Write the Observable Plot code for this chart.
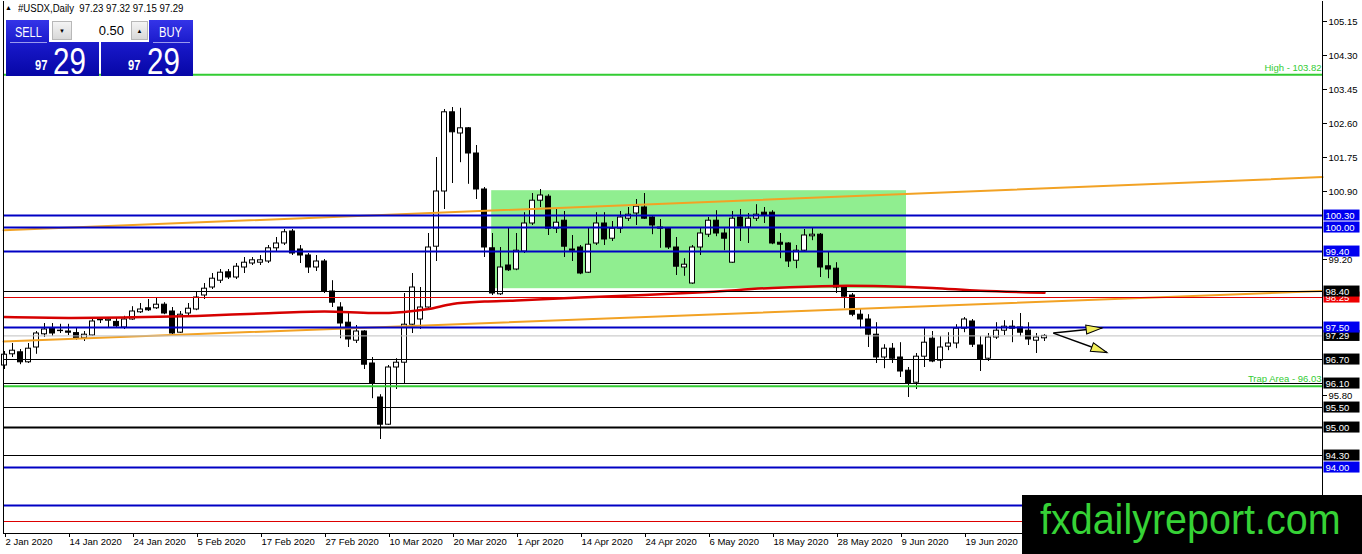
<!DOCTYPE html>
<html><head><meta charset="utf-8">
<script src="https://cdn.jsdelivr.net/npm/d3@7"></script>
<script src="https://cdn.jsdelivr.net/npm/@observablehq/plot@0.6"></script>
<style>
body{margin:0;background:#fff;font-family:"Liberation Sans",Arial,sans-serif;}
#wrap{position:relative;width:1362px;height:554px;overflow:hidden;background:#fff;}
#chart{position:absolute;left:0;top:0;}
.ov{position:absolute;}
.bx{position:absolute;background:linear-gradient(to bottom,#3434e8 0%,#1818c8 45%,#0606a6 100%);}
.wt{position:absolute;color:#fff;white-space:nowrap;transform-origin:left top;}
</style></head>
<body><div id="wrap"><div id="chart"></div>
<div class="wt" style="left:5px;top:4px;color:#000;font-size:7px;">&#9650;</div>
<div class="wt" style="left:18px;top:3px;color:#000;font-size:10px;transform:scaleX(0.96);">#USDX,Daily&nbsp;&nbsp;97.23 97.32 97.15 97.29</div>
<div class="bx" style="left:6px;top:20px;width:93px;height:56px;"></div>
<div class="bx" style="left:101px;top:20px;width:92px;height:56px;"></div>
<div class="ov" style="left:49px;top:20px;width:100px;height:22px;background:#fff;"></div>
<div class="ov" style="left:52px;top:21px;width:20px;height:19px;background:linear-gradient(#f4f4f4,#d8d8d8);border:1px solid #b8b8b8;box-sizing:border-box;font-size:6px;text-align:center;line-height:19px;">&#9660;</div>
<div class="ov" style="left:131px;top:21px;width:17px;height:19px;background:linear-gradient(#f4f4f4,#d8d8d8);border:1px solid #b8b8b8;box-sizing:border-box;font-size:6px;text-align:center;line-height:19px;">&#9650;</div>
<div class="wt" style="left:88px;top:23px;width:36px;text-align:right;color:#000;font-size:13px;">0.50</div>
<div class="wt" style="left:15px;top:24px;font-size:14px;transform:scaleX(0.78);">SELL</div>
<div class="wt" style="left:159px;top:24px;font-size:14px;transform:scaleX(0.8);">BUY</div>
<div class="ov" style="left:10px;top:42px;width:37px;height:1px;background:#9a9aee;"></div>
<div class="ov" style="left:153px;top:42px;width:37px;height:1px;background:#9a9aee;"></div>
<div class="wt" style="left:35px;top:57px;font-size:14px;font-weight:bold;transform:scaleX(0.8);">97</div>
<div class="wt" style="left:53px;top:41px;font-size:36px;transform:scaleX(0.82);">29</div>
<div class="wt" style="left:128px;top:57px;font-size:14px;font-weight:bold;transform:scaleX(0.8);">97</div>
<div class="wt" style="left:147px;top:41px;font-size:36px;transform:scaleX(0.82);">29</div>
<div class="ov" style="left:1022px;top:495px;width:340px;height:59px;background:#000;"></div>
<div class="wt" style="left:1040px;top:496px;font-size:42px;color:#36d236;transform:scaleX(0.94);">fxdailyreport.com</div>
</div>
<script>
// ---- data ----
const opens  = [96.55,96.83,96.88,96.63,97.00,97.33,97.47,97.42,97.40,97.36,97.23,97.30,97.70,97.67,97.64,97.50,97.70,97.88,97.98,97.98,98.07,97.90,97.37,97.85,97.95,98.30,98.50,98.67,98.88,98.75,99.00,99.10,99.12,99.15,99.48,99.60,99.90,99.45,99.30,99.00,99.15,98.40,98.00,97.62,97.17,97.40,96.60,95.75,95.07,96.50,96.62,97.57,97.70,98.00,99.52,100.90,102.88,102.35,102.48,101.85,100.95,99.48,98.33,99.05,98.95,99.40,100.10,100.67,100.77,99.97,100.17,99.45,99.50,98.87,99.60,100.10,99.72,99.97,100.22,100.35,100.50,100.25,100.00,99.97,99.50,99.00,98.60,99.50,99.82,100.17,99.85,99.12,100.25,100.00,100.22,100.37,100.37,99.62,99.60,99.17,99.42,99.78,99.82,99.03,98.97,98.50,98.30,97.82,97.70,97.32,96.75,96.97,96.75,96.42,96.12,96.77,97.22,96.67,97.02,97.10,97.47,97.65,97.05,96.72,97.25,97.42,97.52,97.50,97.42,97.17,97.23];
const highs  = [96.90,97.10,96.95,97.10,97.40,97.60,97.60,97.58,97.58,97.48,97.40,97.72,97.75,97.75,97.75,97.78,98.02,98.10,98.20,98.23,98.12,98.00,97.90,98.10,98.40,98.60,98.85,98.95,98.95,99.10,99.25,99.25,99.30,99.55,99.75,99.95,99.95,99.55,99.35,99.30,99.20,98.67,98.12,97.85,97.55,97.42,96.75,95.82,96.55,96.72,98.35,98.85,98.50,99.85,101.75,102.95,103.00,102.98,102.50,102.05,101.00,99.85,99.50,99.98,99.85,100.37,100.85,100.95,100.82,100.45,100.40,99.80,99.55,100.00,100.37,100.37,100.15,100.40,100.50,100.70,100.85,100.27,100.20,100.00,99.75,99.22,99.55,100.00,100.25,100.42,99.97,100.40,100.45,100.35,100.57,100.50,100.42,99.85,99.62,99.55,99.95,100.00,99.85,99.38,99.12,98.55,98.35,97.97,97.82,97.62,97.07,97.10,97.12,96.50,96.85,97.47,97.40,97.27,97.37,97.57,97.75,97.70,97.27,97.35,97.62,97.67,97.67,97.85,97.62,97.35,97.32];
const lows   = [96.45,96.75,96.57,96.60,96.83,97.25,97.28,97.35,97.30,97.18,97.15,97.28,97.60,97.48,97.48,97.45,97.68,97.85,97.90,97.95,97.82,97.32,97.35,97.80,97.92,98.20,98.45,98.60,98.70,98.70,98.85,99.05,99.05,99.10,99.40,99.55,99.30,99.10,98.85,98.90,98.35,98.00,97.22,97.00,97.10,96.45,95.72,94.70,95.05,95.95,96.10,97.35,97.45,97.98,99.15,100.45,101.10,101.62,101.08,100.70,99.25,98.30,98.30,98.90,98.92,99.35,100.05,100.50,99.80,99.85,99.25,99.15,98.82,98.85,99.55,99.55,99.65,99.85,100.15,100.05,100.20,99.82,99.48,99.45,98.80,98.78,98.58,99.30,99.75,99.77,99.42,99.10,99.65,99.60,100.15,100.10,99.57,99.22,99.00,98.97,99.40,99.67,98.75,98.72,98.35,97.97,97.77,97.47,97.00,96.60,96.47,96.60,96.25,95.75,95.95,96.50,96.62,96.47,96.92,96.97,97.37,97.00,96.40,96.65,97.20,97.30,97.12,97.27,97.05,96.85,97.15];
const closes = [96.82,96.92,96.63,96.97,97.35,97.45,97.35,97.41,97.37,97.22,97.32,97.65,97.68,97.70,97.53,97.70,97.90,97.95,97.93,98.07,97.85,97.35,97.82,97.97,98.25,98.47,98.72,98.87,98.75,99.02,99.12,99.18,99.18,99.48,99.60,99.88,99.35,99.30,99.00,99.15,98.40,98.12,97.60,97.20,97.40,96.57,96.10,95.07,96.50,96.62,97.57,98.50,98.00,99.50,100.90,102.88,102.38,102.48,101.85,100.95,99.50,98.35,99.00,98.93,99.42,100.10,100.67,100.80,99.97,100.12,99.52,99.42,98.85,99.57,100.10,99.70,99.97,100.25,100.32,100.52,100.22,100.05,99.97,99.50,99.02,99.07,99.50,99.85,100.17,99.85,99.72,100.22,100.02,100.22,100.32,100.30,99.60,99.57,99.15,99.42,99.80,99.82,99.00,98.95,98.50,98.27,97.82,97.70,97.32,96.75,96.97,96.72,96.40,96.10,96.77,97.12,96.65,97.00,97.10,97.47,97.70,97.07,96.70,97.25,97.42,97.52,97.47,97.37,97.20,97.25,97.29];

const dateTickIdx    = [0,8,16,24,32,40,48,56,64,72,80,88,96,104,112,120];
const dateTickLabels = ["2 Jan 2020","14 Jan 2020","24 Jan 2020","5 Feb 2020","17 Feb 2020","27 Feb 2020","10 Mar 2020","20 Mar 2020","1 Apr 2020","14 Apr 2020","24 Apr 2020","6 May 2020","18 May 2020","28 May 2020","9 Jun 2020","19 Jun 2020"];
const priceTicks = [105.15,104.30,103.45,102.60,101.75,100.90,99.20,95.80,93.25];

const levelValues = [103.82,100.30,100.00,99.40,98.40,98.25,97.50,97.29,96.70,96.10,96.03,95.50,95.00,94.30,94.00,93.05,92.65];
const levelKinds  = ["green","blue","blue","blue","black","red","blue","price","black","black","green","black","thick","black","blue","blue","red"];
const labelledValues = [100.30,100.00,99.40,98.40,98.25,97.50,97.29,96.70,96.10,95.50,95.00,94.30,94.00];

const maIdx    = [0,8,16,24,32,40,46,50,53,56,60,64,72,80,88,96,104,110,116,122,130];
const maValues = [97.76,97.74,97.755,97.79,97.85,97.90,97.86,97.89,97.96,98.09,98.15,98.175,98.25,98.31,98.39,98.49,98.54,98.53,98.49,98.42,98.37];

const trendIdx   = [-0.125,164.75];
const upperTrend = [99.93,101.26];
const lowerTrend = [97.15,98.41];

const boxIdx    = [60.9,112.75];
const boxValues = [98.47,100.92];

const highLevel = 103.82, trapLevel = 96.03;
const arrowFrom = {i:131.1, v:97.36};
const arrowTipIdx = [137.2,137.8];
const arrowTipVal = [97.49,96.875];

// ---- build ----
const xDomain = [-0.125,164.75], xRange = [3,1322];
const yDomain = [92.35,105.65], yRange = [533,1];
const candles = opens.map((o,i)=>({i,o,h:highs[i],l:lows[i],c:closes[i],up:closes[i]>=o}));
const ma = maIdx.map((i,k)=>({i,v:maValues[k]}));
const upper = trendIdx.map((i,k)=>({i,v:upperTrend[k]}));
const lower = trendIdx.map((i,k)=>({i,v:lowerTrend[k]}));
const styles = {
  green:{stroke:"#33cc33",w:2,bg:null},
  blue:{stroke:"#0000c4",w:2,bg:"#0000f0"},
  black:{stroke:"#000",w:1,bg:"#000"},
  thick:{stroke:"#000",w:2,bg:"#000"},
  red:{stroke:"#dd0000",w:1,bg:"#ee0000"},
  price:{stroke:"#c0c0c0",w:1,bg:"#000"}
};
const levels = levelValues.map((v,k)=>({v,kind:levelKinds[k]}));
const labelLevels = levels.filter(d=>labelledValues.includes(d.v)).sort((a,b)=>a.v-b.v);
const labelMap = new Map(dateTickIdx.map((d,k)=>[d,dateTickLabels[k]]));

const xs = d3.scaleLinear(xDomain,xRange), ys = d3.scaleLinear(yDomain,yRange);
const tips = arrowTipIdx.map((i,k)=>{
  const v = arrowTipVal[k];
  const ang = Math.atan2(ys(v)-ys(arrowFrom.v), xs(i)-xs(arrowFrom.i))*180/Math.PI;
  return {i,v,rot:90+ang};
});
const headSymbol = {draw(ctx){ ctx.moveTo(0,0); ctx.lineTo(-4.5,16); ctx.lineTo(4.5,16); ctx.closePath(); }};

const plot = Plot.plot({
  width:1362, height:554,
  marginLeft:3, marginRight:40, marginTop:1, marginBottom:21,
  x:{domain:xDomain, axis:null},
  y:{domain:yDomain, axis:null},
  color:{type:"identity"},
  style:{fontFamily:"'Liberation Sans',Arial,sans-serif", background:"#fff", overflow:"visible"},
  marks:[
    Plot.rect([{}],{x1:()=>boxIdx[0],x2:()=>boxIdx[1],y1:()=>boxValues[0],y2:()=>boxValues[1],fill:"#90ee90"}),
    Plot.ruleX(candles,{x:"i",y1:"l",y2:"h",stroke:"#000",strokeWidth:1}),
    Plot.rect(candles,{x1:d=>d.i-0.5,x2:d=>d.i+0.5,y1:"o",y2:"c",insetLeft:1.5,insetRight:1.5,fill:d=>d.up?"#fff":"#000",stroke:"#000",strokeWidth:1}),
    Plot.line(ma,{x:"i",y:"v",stroke:"#d60000",strokeWidth:2.5,curve:"catmull-rom"}),
    Plot.line(upper,{x:"i",y:"v",stroke:"#f2a224",strokeWidth:2}),
    Plot.line(lower,{x:"i",y:"v",stroke:"#f2a224",strokeWidth:2}),
    Plot.ruleY(levels,{y:"v",stroke:d=>styles[d.kind].stroke,strokeWidth:d=>styles[d.kind].w}),
    Plot.ruleX([xDomain[0],xDomain[1]],{stroke:"#000"}),
    Plot.ruleY([yDomain[0]],{stroke:"#000"}),
    Plot.link(tips,{x1:()=>arrowFrom.i,y1:()=>arrowFrom.v,x2:"i",y2:"v",stroke:"#000",strokeWidth:1.5}),
    Plot.dot(tips,{x:"i",y:"v",symbol:headSymbol,r:5,rotate:"rot",fill:"#f2ee5a",stroke:"#000",strokeWidth:1}),
    Plot.text([highLevel],{y:d=>d,text:d=>`High - ${d.toFixed(2)}`,frameAnchor:"right",textAnchor:"end",dx:-1,dy:-7,fill:"#33cc33",fontSize:9.5}),
    Plot.text([trapLevel],{y:d=>d,text:d=>`Trap Area - ${d.toFixed(2)}`,frameAnchor:"right",textAnchor:"end",dx:-1,dy:-7,fill:"#33cc33",fontSize:9.5}),
    Plot.axisY(priceTicks,{anchor:"right",tickFormat:d=>d.toFixed(2),tickSize:4,tickPadding:2,fontSize:9.5,fill:"#000",stroke:"#000"}),
    Plot.axisX(dateTickIdx,{anchor:"bottom",tickFormat:d=>labelMap.get(d),textAnchor:"start",dx:1,tickSize:4,tickPadding:1,fontSize:9.5,fill:"#000",stroke:"#000"}),
    Plot.text(labelLevels,{y:"v",text:d=>d.v.toFixed(2),frameAnchor:"right",textAnchor:"start",dx:3,fill:"#fff",fontSize:9.5,ariaLabel:"level-labels"})
  ]
});
document.getElementById("chart").appendChild(plot);

// background boxes behind the right-hand level labels
const ns = "http://www.w3.org/2000/svg";
let texts = Array.from(plot.querySelectorAll('text[aria-label="level-labels"]'));
if (!texts.length) {
  const g = plot.querySelector('g[aria-label="level-labels"]');
  if (g) texts = Array.from(g.querySelectorAll("text"));
}
if (!texts.length) {
  const wanted = new Set(labelLevels.map(d=>d.v.toFixed(2)));
  texts = Array.from(plot.querySelectorAll("text")).filter(t=>t.closest("g") && t.closest("g").getAttribute("fill")==="#fff" && wanted.has(t.textContent));
}
texts.forEach((t,k)=>{
  const b = t.getBBox();
  const r = document.createElementNS(ns,"rect");
  r.setAttribute("x", b.x-2);
  r.setAttribute("y", b.y+b.height/2-5.5);
  r.setAttribute("width", 36);
  r.setAttribute("height", 11);
  const lv = labelLevels.find(d=>d.v.toFixed(2)===t.textContent) || labelLevels[k];
  r.setAttribute("fill", styles[lv.kind].bg);
  r.removeAttribute("aria-label");
  const tr = t.getAttribute("transform");
  if (tr) r.setAttribute("transform", tr);
  t.parentNode.insertBefore(r,t);
});
</script>
</body></html>
